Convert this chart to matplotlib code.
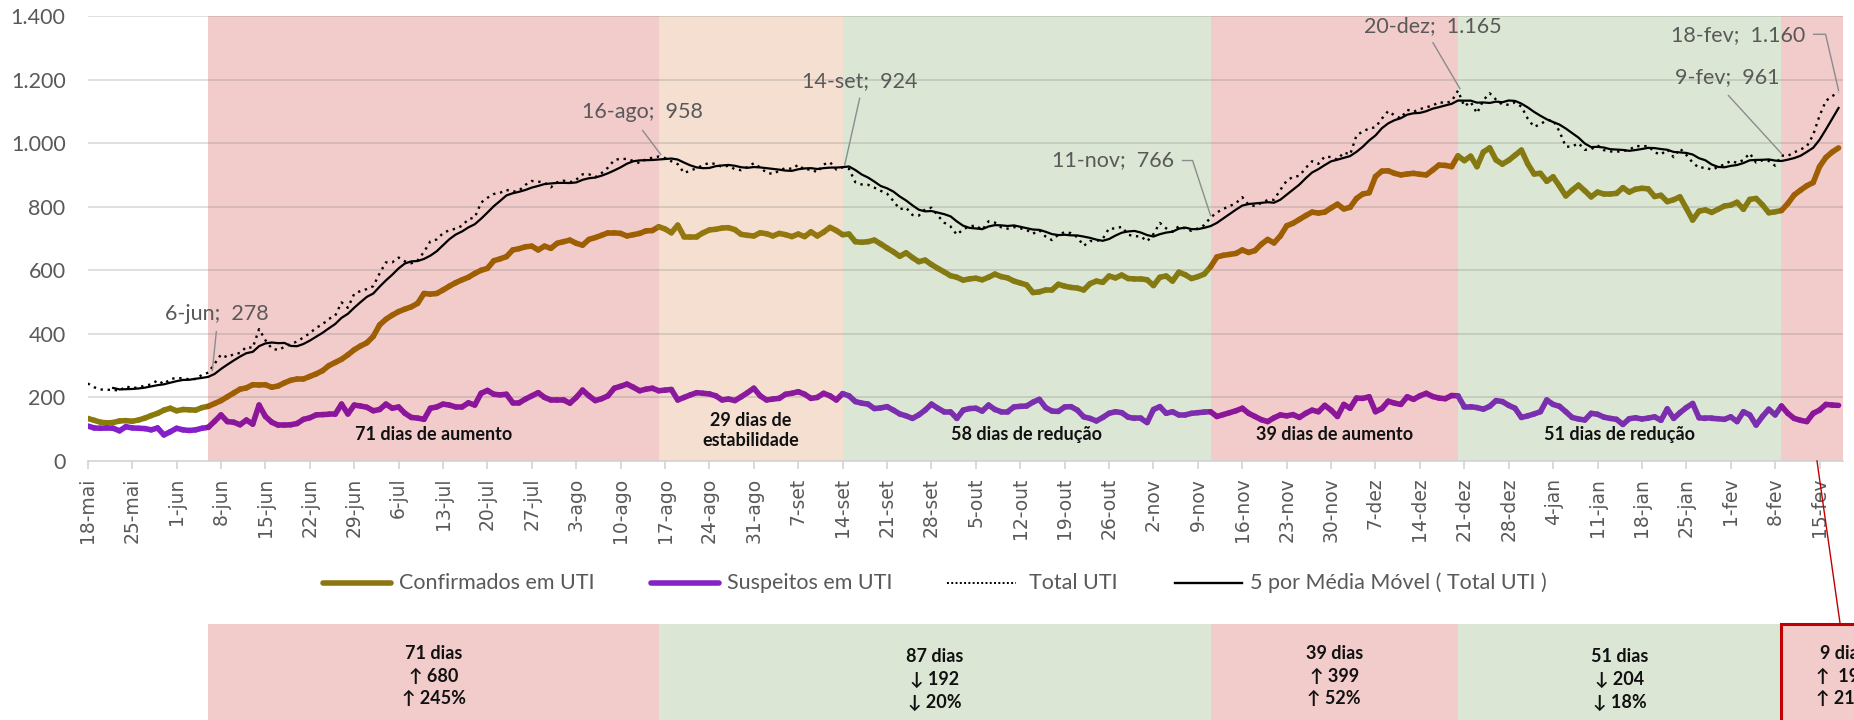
import numpy as np
import pandas as pd
import matplotlib
matplotlib.use('Agg')
import matplotlib.pyplot as plt
from matplotlib.collections import LineCollection
from matplotlib.lines import Line2D
from matplotlib.patches import Rectangle
from matplotlib.transforms import IdentityTransform

# ---------------- data ----------------
start_date = '2020-05-18'

confirmados = [
    134, 128, 122, 120, 121, 126, 127, 125, 129, 135, 143, 150, 160, 166, 158, 162, 161, 160, 168, 172,
    181, 190, 202, 214, 226, 230, 240, 239, 240, 232, 236, 246, 254, 258, 258, 266, 274, 284, 300, 310,
    320, 334, 350, 362, 372, 392, 428, 446, 459, 470, 478, 485, 496, 527, 525, 527, 538, 550, 561, 570,
    578, 590, 600, 606, 630, 636, 643, 664, 668, 674, 676, 664, 676, 669, 685, 690, 695, 685, 679, 697,
    703, 710, 718, 718, 716, 708, 712, 716, 724, 725, 737, 730, 718, 742, 706, 706, 706, 718, 727, 729,
    733, 734, 728, 713, 710, 708, 718, 715, 708, 716, 712, 706, 714, 706, 721, 708, 720, 735, 725, 712,
    714, 690, 688, 690, 695, 683, 670, 658, 644, 655, 640, 627, 632, 618, 606, 595, 583, 578, 569, 573,
    575, 570, 578, 588, 580, 576, 566, 560, 554, 530, 532, 538, 538, 556, 550, 546, 544, 538, 558, 566,
    562, 582, 576, 585, 574, 573, 573, 570, 552, 578, 582, 566, 594, 586, 574, 580, 588, 611, 642, 647,
    650, 653, 664, 656, 662, 682, 697, 686, 708, 740, 748, 760, 772, 783, 780, 783, 796, 808, 793, 798,
    826, 840, 844, 895, 912, 913, 905, 900, 903, 905, 902, 900, 915, 931, 930, 926, 960, 945, 959, 926,
    972, 985, 947, 934, 946, 962, 978, 935, 903, 905, 880, 894, 865, 834, 852, 868, 850, 831, 846, 840,
    840, 842, 860, 846, 855, 858, 856, 832, 836, 816, 822, 831, 795, 758, 786, 790, 782, 792, 802, 805,
    814, 792, 823, 826, 806, 781, 784, 788, 810, 837, 852, 866, 876, 926, 955, 972, 985,
]

suspeitos = [
    110, 104, 103, 104, 103, 95, 108, 104, 103, 102, 98, 104, 82, 92, 103, 98, 96, 98, 103, 106,
    125, 145, 124, 122, 114, 129, 116, 176, 140, 122, 113, 113, 114, 118, 131, 136, 145, 146, 147, 147,
    179, 148, 176, 173, 169, 158, 162, 179, 166, 170, 150, 137, 135, 131, 166, 170, 179, 176, 170, 170,
    183, 176, 213, 222, 210, 208, 210, 183, 183, 195, 205, 215, 200, 192, 192, 192, 182, 200, 223, 205,
    190, 196, 205, 229, 235, 242, 232, 221, 226, 229, 221, 223, 225, 192, 200, 208, 215, 213, 211, 205,
    192, 195, 190, 202, 215, 229, 205, 192, 195, 197, 210, 213, 218, 210, 197, 200, 213, 205, 192, 212,
    205, 187, 182, 179, 165, 167, 171, 160, 148, 142, 134, 145, 160, 179, 166, 155, 155, 134, 160, 165,
    166, 157, 176, 162, 155, 155, 170, 172, 173, 185, 194, 168, 157, 156, 170, 171, 160, 139, 134, 126,
    137, 150, 155, 152, 138, 134, 134, 121, 162, 171, 150, 155, 145, 145, 150, 152, 154, 155, 140, 146,
    152, 158, 166, 150, 140, 130, 124, 136, 145, 142, 146, 137, 150, 160, 155, 175, 160, 140, 178, 166,
    198, 197, 202, 155, 165, 188, 182, 178, 202, 194, 205, 213, 203, 198, 196, 206, 205, 171, 171, 168,
    163, 172, 190, 187, 175, 166, 137, 142, 148, 155, 192, 178, 172, 155, 137, 132, 129, 150, 147, 138,
    134, 131, 115, 133, 136, 132, 135, 139, 128, 164, 134, 152, 168, 181, 136, 134, 134, 133, 131, 139,
    124, 155, 145, 113, 140, 163, 145, 173, 150, 134, 128, 124, 150, 160, 178, 176, 175,
]

x_tick_labels = ['18-mai', '25-mai', '1-jun', '8-jun', '15-jun', '22-jun', '29-jun', '6-jul', '13-jul',
                 '20-jul', '27-jul', '3-ago', '10-ago', '17-ago', '24-ago', '31-ago', '7-set', '14-set',
                 '21-set', '28-set', '5-out', '12-out', '19-out', '26-out', '2-nov', '9-nov', '16-nov',
                 '23-nov', '30-nov', '7-dez', '14-dez', '21-dez', '28-dez', '4-jan', '11-jan', '18-jan',
                 '25-jan', '1-fev', '8-fev', '15-fev']
y_ticks = [0, 200, 400, 600, 800, 1000, 1200, 1400]
y_tick_labels = ['0', '200', '400', '600', '800', '1.000', '1.200', '1.400']

period_dates = ['2020-06-06', '2020-08-16', '2020-09-14', '2020-11-11', '2020-12-20', '2021-02-09', '2021-02-18']
period_kinds = ['up', 'stable', 'down', 'up', 'down', 'up']
period_labels = ['71 dias de aumento', '29 dias de\nestabilidade', '58 dias de redução',
                 '39 dias de aumento', '51 dias de redução', '']

summary_dates = ['2020-06-06', '2020-08-16', '2020-11-11', '2020-12-20', '2021-02-09']
summary_kinds = ['up', 'down', 'up', 'down', 'up']
summary_texts = ['71 dias\n↑ 680\n↑ 245%', '87 dias\n↓ 192\n↓ 20%', '39 dias\n↑ 399\n↑ 52%',
                 '51 dias\n↓ 204\n↓ 18%', '9 dias\n↑  199\n↑ 21%']

annot_dates = ['2020-06-06', '2020-08-16', '2020-09-14', '2020-11-11', '2020-12-20', '2021-02-09', '2021-02-18']
annot_labels = ['6-jun;  278', '16-ago;  958', '14-set;  924', '11-nov;  766', '20-dez;  1.165',
                '9-fev;  961', '18-fev;  1.160']

# ---------------- derived ----------------
conf = np.array(confirmados, dtype=float)
susp = np.array(suspeitos, dtype=float)
total = conf + susp
ma5 = pd.Series(total).rolling(5).mean().to_numpy()
n = len(conf)
days = np.arange(n)
t0 = pd.Timestamp(start_date)
def day_of(s):
    return (pd.Timestamp(s) - t0).days
pdays = [day_of(s) for s in period_dates]

# ---------------- style ----------------
W, H = 1854, 720
FONT = ['Lato', 'DejaVu Sans']
GRAY = '#595959'
PINK = '#F2CBCB'
PEACH = '#F4DFD1'
GREEN = '#DCE6D5'
span_colors = {'up': PINK, 'stable': PEACH, 'down': GREEN}
conf_colors = {'none': '#8A7A0C', 'up': '#9E5F04', 'stable': '#94770E', 'down': '#857A12'}
susp_colors = {'none': '#851FCB', 'up': '#8C169A', 'stable': '#8A1A9E', 'down': '#7B2FAE'}
CONF_LEG = '#8C7610'
SUSP_LEG = '#8424C4'

plt.rcParams['font.family'] = FONT

fig = plt.figure(figsize=(W / 100, H / 100), dpi=100)
XMAX = 276.7
ax_left, ax_right, ax_top, ax_bot = 87.8, 1843.0, 16.0, 461.0
ax = fig.add_axes([ax_left / W, 1 - ax_bot / H, (ax_right - ax_left) / W, (ax_bot - ax_top) / H])
ax.set_xlim(0, XMAX)
ax.set_ylim(0, 1400)

# shaded periods
for i, kind in enumerate(period_kinds):
    a = pdays[i]
    b = pdays[i + 1] if i + 1 < len(period_kinds) else XMAX
    ax.axvspan(a, b, color=span_colors[kind], lw=0, zorder=0)
    if period_labels[i]:
        yv = 96 if '\n' in period_labels[i] else 82
        ax.text((a + b) / 2, yv, period_labels[i], ha='center', va='center', fontsize=13,
                fontweight='bold', color='#111111', linespacing=1.2, zorder=5)

# grid
for yv in y_ticks[1:]:
    ax.axhline(yv, color=(0.45, 0.45, 0.45, 0.28), lw=1.1, zorder=1)

# segment colours by period
def kind_at(x):
    if x < pdays[0]:
        return 'none'
    for i in range(len(period_kinds)):
        b = pdays[i + 1] if i + 1 < len(period_kinds) else 1e9
        if pdays[i] <= x < b:
            return period_kinds[i]
    return period_kinds[-1]

seg_kinds = [kind_at(i + 0.5) for i in range(n - 1)]

def colored_line(y, cmap, lw, z):
    pts = np.column_stack([days, y])
    segs = np.stack([pts[:-1], pts[1:]], axis=1)
    lc = LineCollection(segs, colors=[cmap[k] for k in seg_kinds], linewidths=lw,
                        capstyle='round', joinstyle='round', zorder=z)
    ax.add_collection(lc)

colored_line(conf, conf_colors, 4.0, 3)
colored_line(susp, susp_colors, 4.0, 3)
ax.plot(days, total, color='black', lw=1.7, ls=(0, (1, 2.0)), zorder=4)
ax.plot(days, ma5, color='black', lw=1.6, zorder=4)

# axes styling
for s in ['left', 'right', 'top']:
    ax.spines[s].set_visible(False)
ax.spines['bottom'].set_color('#D0D0D0')
ax.spines['bottom'].set_linewidth(1.1)
ax.set_yticks(y_ticks)
ax.set_yticklabels(y_tick_labels)
ax.tick_params(axis='y', length=0, pad=16, labelsize=15.5, labelcolor=GRAY)
ax.set_xticks(np.arange(0, n, 7)[:len(x_tick_labels)])
ax.set_xticklabels(x_tick_labels, rotation=90, fontfamily='DejaVu Sans')
ax.tick_params(axis='x', length=5.5, width=1.1, color='#D0D0D0', pad=6.5, labelsize=13.5, labelcolor=GRAY)

# annotations (text offset / leader vertices in pixels relative to the data point)
annot_layout = {
    '2020-06-06': ((8, 59), [(8, 41), (4, 2)]),
    '2020-08-16': ((-16, 44), [(-16, 26), (2, 2)]),
    '2020-09-14': ((17, 86), [(17, 69), (2, 2)]),
    '2020-11-11': ((-98, 57), [(-28, 57), (-18, 57), (0, 2)]),
    '2020-12-20': ((-25, 65), [(-25, 48), (2, 2)]),
    '2021-02-09': ((-54, 78), [(-53, 60), (0, 2)]),
    '2021-02-18': ((-100, 57), [(-25, 58), (-13, 58), (0, 2)]),
}
fig.canvas.draw()
for ds, lab in zip(annot_dates, annot_labels):
    d = day_of(ds)
    (tx, ty), leader = annot_layout[ds]
    ax.annotate(lab, xy=(d, total[d]), xytext=(tx, ty), textcoords='offset pixels',
                ha='center', va='center', fontsize=15.5, color=GRAY, zorder=6, annotation_clip=False)
    p = ax.transData.transform((d, total[d]))
    vx = [p[0] + o[0] for o in leader]
    vy = [p[1] + o[1] for o in leader]
    fig.add_artist(Line2D(vx, vy, transform=IdentityTransform(), color='#8C8C8C', lw=1.0, zorder=6))

# legend (manual, figure pixel positions)
def fx(x):
    return x / W
def fy(y):
    return 1 - y / H
ly = 583
leg = [
    (323, 391, dict(color=CONF_LEG, lw=4.0, solid_capstyle='round'), 399, 'Confirmados em UTI'),
    (651, 719, dict(color=SUSP_LEG, lw=4.0, solid_capstyle='round'), 727, 'Suspeitos em UTI'),
    (947, 1016, dict(color='black', lw=1.4, ls=(0, (1, 1.2))), 1029, 'Total UTI'),
    (1175, 1242, dict(color='black', lw=1.7), 1250, '5 por Média Móvel ( Total UTI )'),
]
for x1, x2, kw, tx, lab in leg:
    fig.add_artist(Line2D([fx(x1), fx(x2)], [fy(ly), fy(ly)], transform=fig.transFigure, **kw))
    fig.text(fx(tx), fy(ly), lab, ha='left', va='center', fontsize=15.5, color=GRAY)

# bottom summary boxes
bax = fig.add_axes([ax_left / W, 0, (ax_right - ax_left) / W, 96 / H])
bax.set_xlim(0, XMAX)
bax.set_ylim(0, 1)
bax.axis('off')
sdays = [day_of(s) for s in summary_dates]
for i, (kind, txt) in enumerate(zip(summary_kinds, summary_texts)):
    a = sdays[i]
    last = i + 1 >= len(sdays)
    b = sdays[i + 1] if not last else a + 19.4
    col = PINK if kind == 'up' else GREEN
    if last:
        bax.add_patch(Rectangle((a, -1), b - a, 2, facecolor=col, edgecolor='#C00000', lw=2.2,
                                clip_on=False, zorder=2))
    else:
        bax.add_patch(Rectangle((a, 0), b - a, 1, facecolor=col, lw=0, clip_on=False, zorder=1))
    yc = 0.458 if kind == 'up' else 0.417
    bax.text((a + b) / 2, yc, txt, ha='center', va='center', fontsize=13, fontweight='bold',
             color='#111111', linespacing=1.42, clip_on=False, zorder=3)

# red connector
fig.add_artist(Line2D([fx(1817), fx(1840)], [fy(461), fy(623)], transform=fig.transFigure,
                      color='#C00000', lw=1.0))

fig.savefig('out.png', dpi=100)
